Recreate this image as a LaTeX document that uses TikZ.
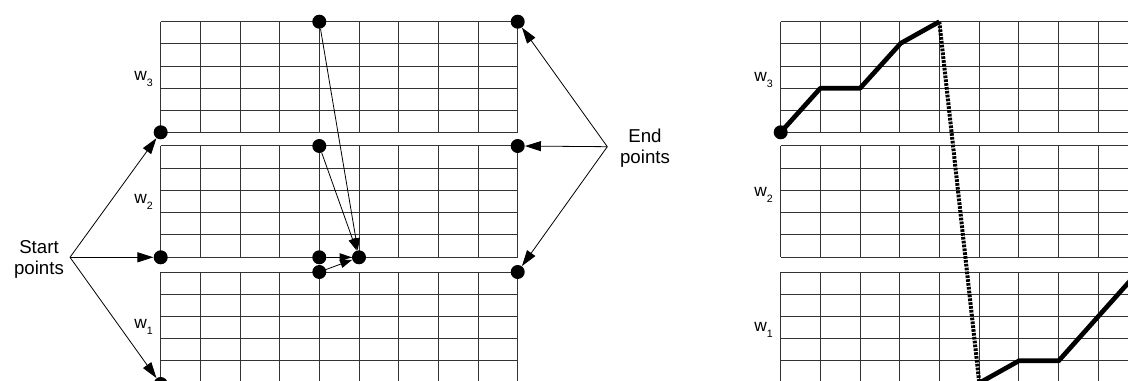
\documentclass[tikz,border=0pt]{standalone}
\usepackage{fontspec}
\setmainfont{Liberation Sans}
\usetikzlibrary{arrows.meta}

\begin{document}
\begin{tikzpicture}[
  x=0.75pt,
  y=-0.75pt,
  gridline/.style={draw=black!80, line width=0.75pt},
  dot/.style={circle, fill=black, inner sep=0pt, minimum size=10.5pt},
  ptr/.style={-{Triangle[length=12pt, width=7.5pt]}, line width=0.6pt},
  ptrsmall/.style={-{Triangle[length=9pt, width=6pt]}, line width=0.6pt},
  warp/.style={line width=3.5pt, line join=round},
  jump/.style={line width=3pt, dash pattern=on 2pt off 0.9pt},
  caption/.style={font=\fontsize{14}{15.75}\selectfont, align=center, inner sep=0pt},
  wlabel/.style={font=\fontsize{13}{14}\selectfont, anchor=base east, inner sep=0pt}
]

\useasboundingbox (0,0) rectangle (1128,381);
\fill[white] (0,0) rectangle (1128,381);
\clip (0,0) rectangle (1128,381);

% three bands of 9x5 cells on each side
\foreach \xo in {160.7, 780.7} {
  \foreach \yo in {21.7, 146, 272} {
    \foreach \i in {0,...,9}
      \draw[gridline] (\xo+\i*39.67, \yo) -- (\xo+\i*39.67, \yo+111);
    \foreach \j in {0,...,5}
      \draw[gridline] (\xo, \yo+\j*22.2) -- (\xo+357, \yo+\j*22.2);
  }
}

% band labels
\node[wlabel] (lw3) at (153, 80.7)  {w\raisebox{-4.5pt}{\fontsize{8}{8}\selectfont 3}};
\node[wlabel] (lw2) at (153, 203.3) {w\raisebox{-4.5pt}{\fontsize{8}{8}\selectfont 2}};
\node[wlabel] (lw1) at (153, 328.3) {w\raisebox{-4.5pt}{\fontsize{8}{8}\selectfont 1}};
\node[wlabel] (rw3) at (773, 81.7)  {w\raisebox{-4.5pt}{\fontsize{8}{8}\selectfont 3}};
\node[wlabel] (rw2) at (773, 196.7) {w\raisebox{-4.5pt}{\fontsize{8}{8}\selectfont 2}};
\node[wlabel] (rw1) at (773, 331)   {w\raisebox{-4.5pt}{\fontsize{8}{8}\selectfont 1}};

% left: start and end points
\node[dot] (s3) at (160.7, 132.3) {};
\node[dot] (s2) at (160.7, 257.3) {};
\node[dot] (s1) at (160.7, 384) {};
\node[dot] (e3) at (517.7, 21.7) {};
\node[dot] (e2) at (517.7, 146) {};
\node[dot] (e1) at (517.7, 272) {};

\node[caption] (startlbl) at (39, 259.3) {Start\\points};
\node[caption] (endlbl) at (645, 148) {End\\points};

\coordinate (startv) at (70, 257.3);
\coordinate (endv) at (607.3, 146.7);

\draw[ptr] (startv) -- (s3);
\draw[ptr] (startv) -- (s2);
\draw[ptr] (startv) -- (s1);
\draw[ptr] (endv) -- (e3);
\draw[ptr] (endv) -- (e2);
\draw[ptr] (endv) -- (e1);

% left: predecessors of one cell
\node[dot] (m3) at (319.3, 21.7) {};
\node[dot] (m2) at (319.3, 146) {};
\node[dot] (m2b) at (319.3, 257.3) {};
\node[dot] (m1) at (319.3, 272) {};
\node[dot] (tgt) at (359, 257.3) {};

\draw[ptrsmall] (m3) -- (tgt);
\draw[ptrsmall] (m2) -- (tgt);
\draw[ptrsmall] (m2b) -- (tgt);
\draw[ptrsmall] (m1) -- (tgt);

% right: warping path
\draw[warp] (780.7, 132.3) -- (820.3, 88.3) -- (860, 88.3) -- (900.7, 43.3)
  -- (939.3, 21.7) coordinate (ptop);
\draw[jump] (ptop) -- (979.3, 383) coordinate (pbot);
\draw[warp] (pbot) -- (1019, 360.8) -- (1058.7, 360.8) -- (1098.3, 316.4)
  -- (1138, 272);
\node[dot] (p0) at (780.7, 132.3) {};

\end{tikzpicture}
\end{document}
